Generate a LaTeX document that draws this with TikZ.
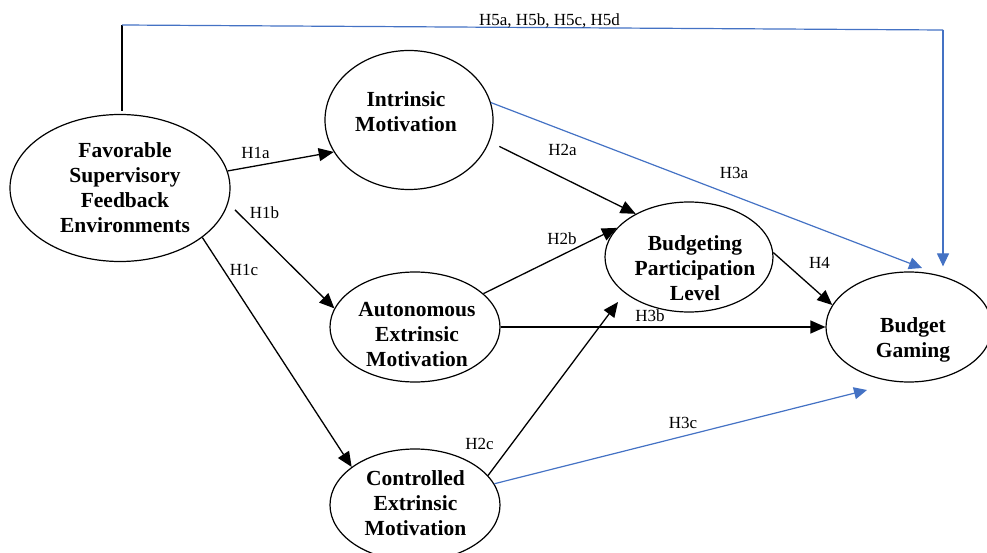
\documentclass[tikz,border=0pt]{standalone}
\usepackage{fontspec}
\setmainfont{Liberation Serif}
\usetikzlibrary{shapes.geometric,arrows.meta}
\definecolor{hblue}{RGB}{68,114,196}
\begin{document}
\begin{tikzpicture}[x=1pt,y=-1pt,
  ell/.style={draw, ellipse, line width=1.2pt, inner sep=0pt},
  ntext/.style={align=center, inner sep=0pt, font=\fontsize{21.5}{25}\selectfont\bfseries},
  hlab/.style={inner sep=0pt, font=\fontsize{17}{20}\selectfont},
  blk/.style={line width=1.3pt, -{Triangle[length=15pt,width=13pt]}},
  blu/.style={hblue, line width=1.2pt, -{Triangle[length=13pt,width=12pt]}}
]
\useasboundingbox (0,0) rectangle (987,553);

% ellipses
\node[ell, minimum width=220pt, minimum height=147pt] (fsfe) at (120,188) {};
\node[ntext] (fsfeT) at (125,188) {Favorable\\Supervisory\\Feedback\\Environments};
\node[ell, minimum width=168pt, minimum height=139pt] (int) at (409,120) {};
\node[ntext] (intT) at (406,112) {Intrinsic\\Motivation};
\node[ell, minimum width=170pt, minimum height=110pt] (aem) at (415,327) {};
\node[ntext] (aemT) at (417,334.5) {Autonomous\\Extrinsic\\Motivation};
\node[ell, minimum width=170pt, minimum height=112pt] (cem) at (415,505) {};
\node[ntext] (cemT) at (415.5,503.5) {Controlled\\Extrinsic\\Motivation};
\node[ell, minimum width=168pt, minimum height=110pt] (bpl) at (689,257) {};
\node[ntext] (bplT) at (695,268) {Budgeting\\Participation\\Level};
\node[ell, minimum width=166pt, minimum height=110pt] (bg) at (909,327) {};
\node[ntext] (bgT) at (913,340) {Budget\\Gaming};

% free ends
\coordinate (c1) at (122,25);
\coordinate (c2) at (943,30);
\coordinate (h3aTip) at (922,268);
\coordinate (h2cTip) at (618,302);
\coordinate (h3cTip) at (867,390);

% connectors
\draw[blk] (fsfe.9.7) -- (int.203);
\draw[blk, shorten <=9.5pt] (fsfe.-8.3) -- (aem.167);
\draw[blk] (fsfe.-31.3) -- (cem.149);
\draw[blk, shorten <=11pt] (int.-15.4) -- (bpl.141.7);
\draw[blk] (aem.26) -- (bpl.158.5);
\draw[blk] (cem.22) -- (h2cTip);
\draw[blu] (int.12.6) -- (h3aTip);
\draw[blk] (aem.east) -- (bg.west);
\draw[blu] (cem.15.8) -- (h3cTip);
\draw[blk] (bpl.3) -- (bg.164);
\draw[line width=1.3pt, shorten <=3pt] (fsfe.north -| c1) -- (c1);
\draw[hblue, line width=1.2pt] (c1) -- (c2);
\draw[blu, shorten >=5pt] (c2) -- (c2 |- bg.north);

% labels
\node[hlab] (l5) at (549.5,21) {H5a, H5b, H5c, H5d};
\node[hlab] (l1a) at (255.5,152.5) {H1a};
\node[hlab] (l1b) at (264.5,213) {H1b};
\node[hlab] (l1c) at (244,270) {H1c};
\node[hlab] (l2a) at (562.5,149.5) {H2a};
\node[hlab] (l3a) at (734,172.5) {H3a};
\node[hlab] (l2b) at (562,239) {H2b};
\node[hlab] (l4) at (819.5,263) {H4};
\node[hlab] (l3b) at (650,316) {H3b};
\node[hlab] (l3c) at (683,422.5) {H3c};
\node[hlab] (l2c) at (479.5,444) {H2c};
\end{tikzpicture}
\end{document}
